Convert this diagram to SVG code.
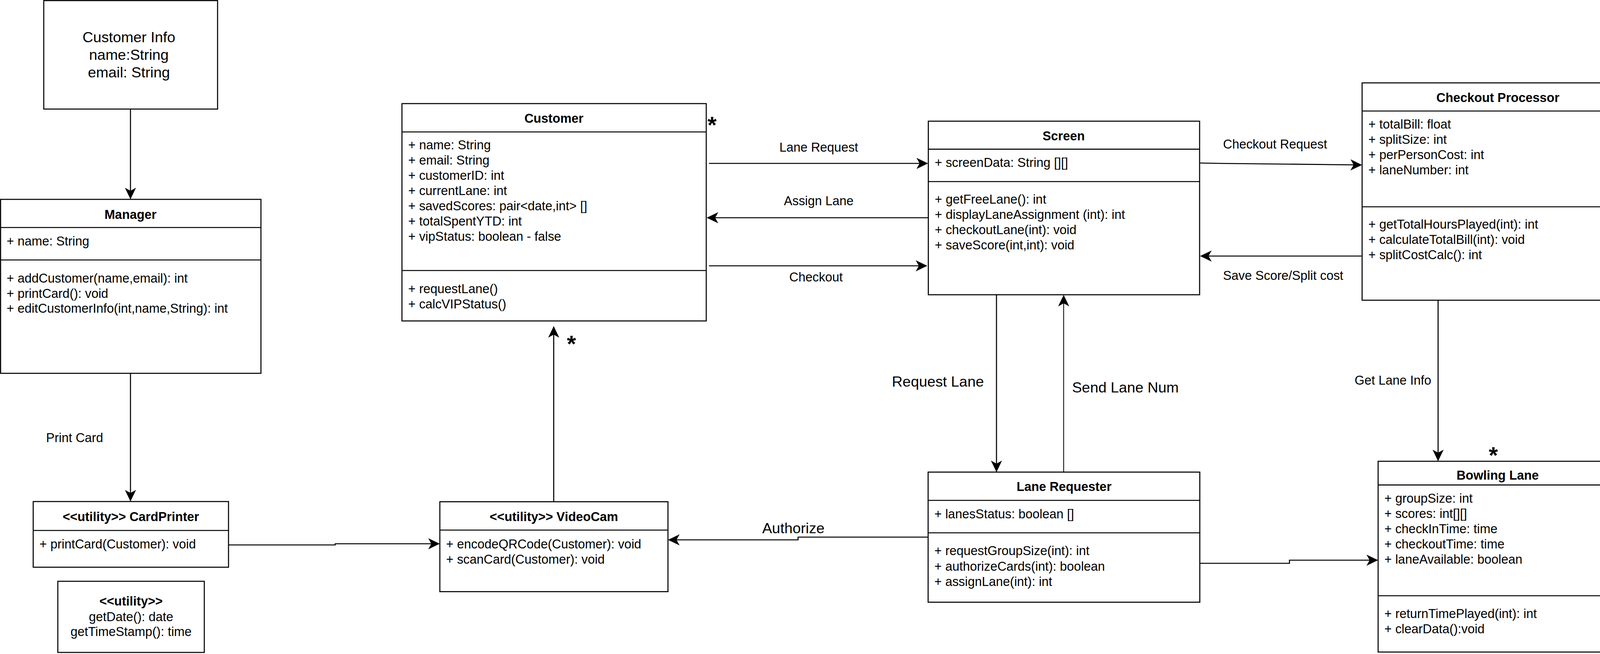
<svg xmlns="http://www.w3.org/2000/svg" width="5400" height="1673" viewBox="0 0 5400 1673">
<style>
.box{fill:#fff;stroke:#000;stroke-width:2.7}
.ln{fill:none;stroke:#000;stroke-width:2.7}
.conn{fill:none;stroke:#000;stroke-width:2.7}
.thin{stroke-width:2}
text{font-family:"Liberation Sans",Arial,Helvetica,sans-serif;font-size:32.4px;fill:#000}
.b{font-weight:bold}
.c{text-anchor:middle}
.e{text-anchor:end}
.big{font-size:37.8px}
.star{font-size:60px;font-weight:bold;text-anchor:middle}
</style>
<defs>
<marker id="arr" markerUnits="userSpaceOnUse" viewBox="-28 -14 30 28" refX="0" refY="0" markerWidth="30" markerHeight="28" orient="auto" overflow="visible">
<path d="M0,0 L-26,-12.5 L-19,0 L-26,12.5 Z" fill="#000" stroke="#000" stroke-width="1.5" stroke-linejoin="miter"/>
</marker>
</defs>
<rect x="0" y="0" width="5400" height="1673" fill="#fff"/>

<g id="connectors">
<path class="conn" d="M334,279 V508" marker-end="url(#arr)"/>
<path class="conn" d="M334,955 V1281" marker-end="url(#arr)"/>
<text x="191" y="1131" class="c">Print Card</text>
<path class="conn" d="M585,1394 H858 V1391 H1124" marker-end="url(#arr)"/>
<path class="conn" d="M1417.5,1283.5 V836" marker-end="url(#arr)"/>
<path class="conn" d="M1815,418 H2374" marker-end="url(#arr)"/>
<text x="2096" y="388" class="c">Lane Request</text>
<path class="conn" d="M2376,557 H1811" marker-end="url(#arr)"/>
<text x="2096" y="525" class="c">Assign Lane</text>
<path class="conn" d="M1815,680 H2372" marker-end="url(#arr)"/>
<text x="2089" y="720" class="c">Checkout</text>
<path class="conn" d="M3071,417 L3125,418 L3485,422" marker-end="url(#arr)"/>
<text x="3131" y="380">Checkout Request</text>
<path class="conn" d="M3487,655 H3074" marker-end="url(#arr)"/>
<text x="3131" y="716">Save Score/Split cost</text>
<path class="conn" d="M2551,754 V1206" marker-end="url(#arr)"/>
<text x="2401" y="989" class="c big">Request Lane</text>
<path class="conn thin" d="M2723,1207.7 V756" marker-end="url(#arr)"/>
<text x="2881" y="1003.5" class="c big">Send Lane Num</text>
<path class="conn" d="M2376,1374 H2043 V1381 H1712" marker-end="url(#arr)"/>
<text x="2031" y="1364" class="c big">Authorize</text>
<path class="conn" d="M3071.5,1441 H3301 V1433 H3526" marker-end="url(#arr)"/>
<path class="conn" d="M3681.5,768 V1178" marker-end="url(#arr)"/>
<text x="3664" y="983.5" class="e">Get Lane Info</text>
<path class="conn thin" d="M4182,401 H4755" marker-end="url(#arr)"/>
<text x="4470" y="389" class="c">Credit Card</text>
<path class="conn thin" d="M4756,529.5 H4184" marker-end="url(#arr)"/>
<text x="4475" y="575" class="c">Response</text>
<path class="conn" d="M4979,629 V933" marker-end="url(#arr)"/>
<text x="4962.5" y="804" class="e">Try to authorize payment</text>
<path class="conn" d="M5173,934.5 V631" marker-end="url(#arr)"/>
<text x="5207" y="804">Response</text>
<text x="1823" y="340" class="star">*</text>
<text x="1463" y="900" class="star">*</text>
<text x="3823" y="1185" class="star">*</text>
</g>

<g id="customer-info">
<rect class="box" x="112" y="1.5" width="445" height="277.5"/>
<text x="330" y="108" class="c big">Customer Info</text>
<text x="330" y="153" class="c big">name:String</text>
<text x="330" y="198" class="c big">email: String</text>
</g>

<g id="manager">
<rect class="box" x="1.5" y="510" width="666.5" height="445"/>
<line class="ln" x1="1.5" y1="582" x2="668" y2="582"/>
<line class="ln" x1="1.5" y1="665" x2="668" y2="665"/>
<text x="334" y="560" class="c b">Manager</text>
<text x="17" y="628">+ name: String</text>
<text x="17" y="723">+ addCustomer(name,email): int</text>
<text x="17" y="762">+ printCard(): void</text>
<text x="17" y="800">+ editCustomerInfo(int,name,String): int</text>
</g>

<g id="card-printer">
<rect class="box" x="85" y="1283" width="500" height="168"/>
<line class="ln" x1="85" y1="1357" x2="585" y2="1357"/>
<text x="335" y="1333" class="c b">&lt;&lt;utility&gt;&gt; CardPrinter</text>
<text x="101" y="1403">+ printCard(Customer): void</text>
</g>

<g id="utility">
<rect class="box" x="148" y="1487" width="375" height="182"/>
<text x="335.5" y="1549" class="c b">&lt;&lt;utility&gt;&gt;</text>
<text x="335.5" y="1589" class="c">getDate(): date</text>
<text x="335.5" y="1627" class="c">getTimeStamp(): time</text>
</g>

<g id="customer">
<rect class="box" x="1029" y="265" width="779" height="556"/>
<line class="ln" x1="1029" y1="337.5" x2="1808" y2="337.5"/>
<line class="ln" x1="1029" y1="692" x2="1808" y2="692"/>
<text x="1418" y="314" class="c b">Customer</text>
<text x="1045" y="382">+ name: String</text>
<text x="1045" y="421">+ email: String</text>
<text x="1045" y="460">+ customerID: int</text>
<text x="1045" y="499">+ currentLane: int</text>
<text x="1045" y="538">+ savedScores: pair&lt;date,int&gt; []</text>
<text x="1045" y="577">+ totalSpentYTD: int</text>
<text x="1045" y="616">+ vipStatus: boolean - false</text>
<text x="1045" y="750">+ requestLane()</text>
<text x="1045" y="789">+ calcVIPStatus()</text>
</g>

<g id="screen">
<rect class="box" x="2376.5" y="310" width="694.5" height="444"/>
<line class="ln" x1="2376.5" y1="381.6" x2="3071" y2="381.6"/>
<line class="ln" x1="2376.5" y1="464.5" x2="3071" y2="464.5"/>
<text x="2723" y="359" class="c b">Screen</text>
<text x="2393" y="427">+ screenData: String [][]</text>
<text x="2393" y="521">+ getFreeLane(): int</text>
<text x="2393" y="560">+ displayLaneAssignment (int): int</text>
<text x="2393" y="599">+ checkoutLane(int): void</text>
<text x="2393" y="638">+ saveScore(int,int): void</text>
</g>

<g id="checkout-processor">
<rect class="box" x="3487" y="212" width="695" height="556"/>
<line class="ln" x1="3487" y1="284" x2="4182" y2="284"/>
<line class="ln" x1="3487" y1="529" x2="4182" y2="529"/>
<text x="3834.5" y="261" class="c b">Checkout Processor</text>
<text x="3503" y="329">+ totalBill: float</text>
<text x="3503" y="368">+ splitSize: int</text>
<text x="3503" y="407">+ perPersonCost: int</text>
<text x="3503" y="446">+ laneNumber: int</text>
<text x="3503" y="585">+ getTotalHoursPlayed(int): int</text>
<text x="3503" y="624">+ calculateTotalBill(int): void</text>
<text x="3503" y="663">+ splitCostCalc(): int</text>
</g>

<g id="credit-card-reader">
<rect class="box" x="4756.5" y="213" width="640.5" height="416"/>
<line class="ln" x1="4756.5" y1="284" x2="5397" y2="284"/>
<line class="ln" x1="4756.5" y1="474" x2="5397" y2="474"/>
<text x="5077" y="261.6" class="c b">&lt;&lt;utility&gt;&gt; CreditCardReader</text>
<text x="4772" y="330">+ name: String</text>
<text x="4772" y="369">+ accountNum: long int</text>
<text x="4772" y="408">+ expDate: date</text>
<text x="4772" y="447">+ secCode: int</text>
<text x="4772" y="529.5">+ readCard(int): int</text>
<text x="4772" y="569">+ clearData(): void</text>
</g>

<g id="external-payment">
<rect class="box" x="4881.5" y="934.5" width="389.5" height="139.5"/>
<text x="5076" y="975" class="c">External</text>
<text x="5076" y="1014" class="c">Payment Processing</text>
</g>

<g id="video-cam">
<rect class="box" x="1126" y="1283.5" width="584" height="230"/>
<line class="ln" x1="1126" y1="1356" x2="1710" y2="1356"/>
<text x="1418" y="1333" class="c b">&lt;&lt;utility&gt;&gt; VideoCam</text>
<text x="1142" y="1403">+ encodeQRCode(Customer): void</text>
<text x="1142" y="1442">+ scanCard(Customer): void</text>
</g>

<g id="lane-requester">
<rect class="box" x="2376" y="1207.7" width="695.5" height="332.8"/>
<line class="ln" x1="2376" y1="1280" x2="3071.5" y2="1280"/>
<line class="ln" x1="2376" y1="1363" x2="3071.5" y2="1363"/>
<text x="2724" y="1256" class="c b">Lane Requester</text>
<text x="2392" y="1326">+ lanesStatus: boolean []</text>
<text x="2392" y="1420">+ requestGroupSize(int): int</text>
<text x="2392" y="1460">+ authorizeCards(int): boolean</text>
<text x="2392" y="1499">+ assignLane(int): int</text>
</g>

<g id="bowling-lane">
<rect class="box" x="3528" y="1180" width="612" height="488"/>
<line class="ln" x1="3528" y1="1240.6" x2="4140" y2="1240.6"/>
<line class="ln" x1="3528" y1="1524" x2="4140" y2="1524"/>
<text x="3834" y="1227" class="c b">Bowling Lane</text>
<text x="3544" y="1286">+ groupSize: int</text>
<text x="3544" y="1325">+ scores: int[][]</text>
<text x="3544" y="1364">+ checkInTime: time</text>
<text x="3544" y="1403">+ checkoutTime: time</text>
<text x="3544" y="1442">+ laneAvailable: boolean</text>
<text x="3544" y="1581">+ returnTimePlayed(int): int</text>
<text x="3544" y="1620">+ clearData():void</text>
</g>
</svg>
